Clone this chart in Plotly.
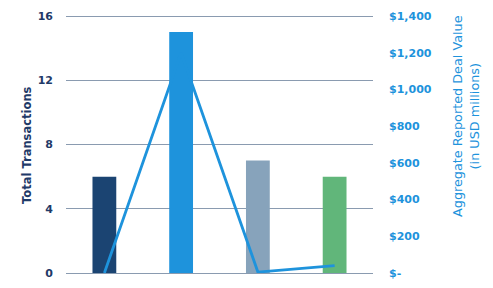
import plotly.graph_objects as go

categories = ["Cat 1", "Cat 2", "Cat 3", "Cat 4"]
transactions = [6, 15, 7, 6]
deal_value = [0, 1200, 5, 40]
bar_colors = ["#1B4472", "#1E93DC", "#87A3BB", "#61B67A"]
left_ticks = [0, 4, 8, 12, 16]
right_ticks = [0, 200, 400, 600, 800, 1000, 1200, 1400]
right_labels = ["$-", "$200", "$400", "$600", "$800", "$1,000", "$1,200", "$1,400"]

navy = "#1F3A68"
blue = "#1E93DC"
grid = "#8A9BB0"
font = "DejaVu Sans"
pad = 1.004  # small headroom so the top gridline is drawn

fig = go.Figure()
fig.add_trace(go.Bar(x=categories, y=transactions, marker=dict(color=bar_colors, line=dict(width=0)),
                     width=0.31, yaxis="y", showlegend=False))
fig.add_trace(go.Scatter(x=categories, y=deal_value, mode="lines", line=dict(color=blue, width=2.8),
                         yaxis="y2", showlegend=False))

fig.update_layout(
    width=493, height=288,
    margin=dict(l=66, r=120, t=15, b=15, autoexpand=False),
    paper_bgcolor="white", plot_bgcolor="white",
    xaxis=dict(showticklabels=False, showgrid=False, zeroline=False, showline=False, ticks="",
               automargin=False),
    yaxis=dict(range=[0, 16 * pad], tickvals=left_ticks, showgrid=True, gridcolor=grid, gridwidth=1,
               zeroline=True, zerolinecolor=grid, zerolinewidth=1, showline=False, ticks="",
               ticklabelstandoff=12, automargin=False,
               tickfont=dict(family=font, size=11, color=navy, weight="bold")),
    yaxis2=dict(range=[0, 1400 * pad], tickvals=right_ticks, ticktext=right_labels, overlaying="y", side="right",
                showgrid=False, zeroline=False, showline=False, ticks="", ticklabelstandoff=15,
                automargin=False,
                tickfont=dict(family=font, size=11, color=blue, weight="bold")),
    annotations=[
        dict(text="Total Transactions", xref="paper", yref="paper", x=(27 - 66) / 307, y=(273 - 145) / 258,
             xanchor="center", yanchor="middle", textangle=-90, showarrow=False,
             font=dict(family=font, size=11.5, color=navy, weight="bold")),
        dict(text="Aggregate Reported Deal Value<br>(in USD millions)", xref="paper", yref="paper",
             x=(466 - 66) / 307, y=(273 - 116) / 258, xanchor="center", yanchor="middle", textangle=-90,
             showarrow=False, font=dict(family=font, size=12.8, color=blue)),
    ],
)

fig.write_html("out.html")
